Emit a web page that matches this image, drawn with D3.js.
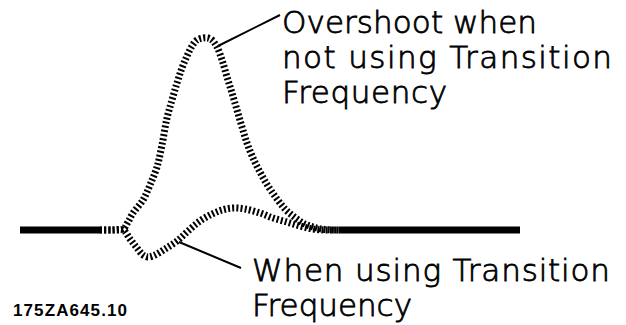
<!DOCTYPE html>
<html>
<head>
<meta charset="utf-8">
<script src="https://cdn.jsdelivr.net/npm/d3@7"></script>
<style>
  html, body { margin: 0; padding: 0; background: #fff; }
  svg { display: block; }
</style>
</head>
<body>
<div id="chart"></div>
<script>
// ---- data (time units, response value) ----
const baseT1 = [0, 80];
const baseT2 = [320, 500];
const baseV = [0, 0];

const overT = [80, 92, 103, 108, 113, 123, 130, 137, 142, 147, 152, 157, 162, 167, 172, 177, 183, 188, 192, 197, 202, 207, 212, 217, 222, 227, 233, 240, 248, 257, 265, 273, 283, 293, 305, 320];
const overV = [0, 0, 1, 8, 17, 30, 45, 63, 85, 112, 130, 147, 162, 174, 184, 190, 192, 192, 190, 183, 170, 153, 137, 120, 103, 87, 72, 58, 44, 31, 21, 14, 7, 3, 0.5, 0];

const underT = [80, 92, 103, 110, 117, 123, 128, 135, 145, 157, 168, 180, 192, 202, 213, 225, 240, 253, 267, 280, 293, 305, 320];
const underV = [0, 0, 0, -9, -18, -25, -27, -25, -19, -11, -1, 9, 16, 20, 22, 21, 17, 12, 8, 4, 1, 0, 0];

const overLabel = ["Overshoot when", "not using Transition", "Frequency"];
const underLabel = ["When using Transition", "Frequency"];
const figureId = "175ZA645.10";

// ---- layout ----
const W = 626, H = 325;
const svg = d3.select("#chart").append("svg").attr("width", W).attr("height", H);

const x = d3.scaleLinear().domain([0, 500]).range([20, 520]);
const y = d3.scaleLinear().domain([0, 200]).range([230, 30]);

const line = d3.line().x(d => x(d[0])).y(d => y(d[1])).curve(d3.curveCatmullRom.alpha(0.5));
const zip = (a, b) => a.map((t, i) => [t, b[i]]);

// baseline (solid, thick)
[baseT1, baseT2].forEach(bt => {
  svg.append("path")
    .datum(zip(bt, baseV))
    .attr("d", d3.line().x(d => x(d[0])).y(d => y(d[1])))
    .attr("fill", "none").attr("stroke", "#000").attr("stroke-width", 7);
});

// dashed response curves
function dashed(data) {
  svg.append("path")
    .datum(data)
    .attr("d", line)
    .attr("fill", "none")
    .attr("stroke", "#000")
    .attr("stroke-width", 7)
    .attr("stroke-dasharray", "2,2.2");
}
dashed(zip(overT, overV));
dashed(zip(underT, underV));

// leader lines
const peakIdx = 19; // point on overshoot curve near the peak
svg.append("line")
  .attr("x1", x(overT[peakIdx]) + 1).attr("y1", y(overV[peakIdx]) - 1)
  .attr("x2", 280).attr("y2", 15)
  .attr("stroke", "#000").attr("stroke-width", 2);

const uIdx = 9;
svg.append("line")
  .attr("x1", x(underT[uIdx]) + 2).attr("y1", y(underV[uIdx]) + 1)
  .attr("x2", 241).attr("y2", 268)
  .attr("stroke", "#000").attr("stroke-width", 2);

// labels
const font = "'DejaVu Sans', sans-serif";
function label(s, xp, yp, len) {
  svg.append("text").text(s)
    .attr("x", xp).attr("y", yp)
    .attr("font-family", font).attr("font-size", 31).attr("font-weight", 300)
    .attr("textLength", len).attr("lengthAdjust", "spacing")
    .attr("fill", "#000").attr("stroke", "#000").attr("stroke-width", 0.8);
}
const overLens = [255, 330, 165];
const overBase = [33, 68, 103];
overLabel.forEach((s, i) => label(s, 282, overBase[i], overLens[i]));
const underLens = [358, 160];
const underBase = [281, 316];
underLabel.forEach((s, i) => label(s, 252, underBase[i], underLens[i]));

svg.append("text").text(figureId)
  .attr("x", 13).attr("y", 316)
  .attr("font-family", "'Liberation Sans', Arial, sans-serif")
  .attr("font-weight", "bold").attr("font-size", 17)
  .attr("textLength", 114).attr("lengthAdjust", "spacing")
  .attr("fill", "#000");
</script>
</body>
</html>
